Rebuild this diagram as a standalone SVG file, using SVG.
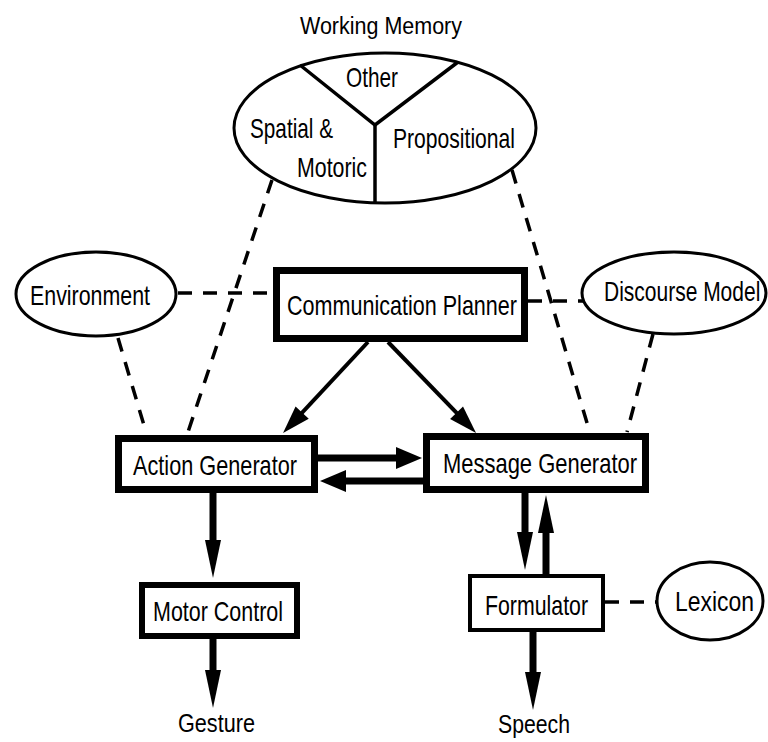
<svg xmlns="http://www.w3.org/2000/svg" width="768" height="742" viewBox="0 0 768 742">
<style>
text{font-family:"Liberation Sans",Arial,sans-serif;fill:#000}
.lbl{font-size:28px}
.box{fill:#fff;stroke:#000}
.ell{fill:#fff;stroke:#000;stroke-width:3}
.dash{stroke:#000;stroke-width:3.5;stroke-dasharray:14 11;fill:none}
.thick{stroke:#000;stroke-width:7;fill:none}
.thin{stroke:#000;stroke-width:4;fill:none}
.div{stroke:#000;stroke-width:3.5;fill:none}
</style>
<defs>
<marker id="mV" markerUnits="userSpaceOnUse" markerWidth="38" markerHeight="16" refX="19" refY="8" orient="auto" overflow="visible"><path d="M0,0 L38,8 L0,16 z" fill="#000"/></marker>
<marker id="mH" markerUnits="userSpaceOnUse" markerWidth="26" markerHeight="22" refX="13" refY="11" orient="auto" overflow="visible"><path d="M0,0 L26,11 L0,22 z" fill="#000"/></marker>
<marker id="mD" markerUnits="userSpaceOnUse" markerWidth="28" markerHeight="18" refX="14" refY="9" orient="auto" overflow="visible"><path d="M0,0 L28,9 L0,18 z" fill="#000"/></marker>
</defs>
<rect width="768" height="742" fill="#fff"/>
<g id="connectors">
<line class="dash" x1="178" y1="293" x2="273" y2="293"/>
<line class="dash" x1="528" y1="301" x2="583" y2="301"/>
<line class="dash" x1="118" y1="338" x2="146" y2="432"/>
<line class="dash" x1="272" y1="180" x2="188" y2="432"/>
<line class="dash" x1="512" y1="170" x2="590" y2="433"/>
<line class="dash" x1="653" y1="334" x2="627" y2="432"/>
<line class="dash" x1="605" y1="602" x2="657" y2="602"/>
<line class="thin" x1="368" y1="342" x2="292.6" y2="422.8" marker-end="url(#mD)"/>
<line class="thin" x1="388" y1="342" x2="466.3" y2="422.9" marker-end="url(#mD)"/>
<line class="thick" x1="318" y1="458" x2="409" y2="458" marker-end="url(#mH)"/>
<line class="thick" x1="423" y1="481" x2="333" y2="481" marker-end="url(#mH)"/>
<line class="thick" x1="213" y1="493" x2="213" y2="559" marker-end="url(#mV)"/>
<line class="thick" x1="213" y1="639" x2="213" y2="689" marker-end="url(#mV)"/>
<line class="thick" x1="525" y1="493" x2="525" y2="551" marker-end="url(#mV)"/>
<line class="thick" x1="546" y1="574" x2="546" y2="514" marker-end="url(#mV)"/>
<line class="thick" x1="533" y1="632" x2="533" y2="691" marker-end="url(#mV)"/>
</g>
<g id="working-memory">
<text x="300" y="34" font-size="23" textLength="162" lengthAdjust="spacingAndGlyphs">Working Memory</text>
<ellipse class="ell" cx="385" cy="128" rx="151" ry="75"/>
<polyline class="div" points="300,65 375,125 458,62"/>
<line class="div" x1="375" y1="125" x2="375" y2="203"/>
<text class="lbl" x="346" y="87" font-size="26" textLength="52" lengthAdjust="spacingAndGlyphs">Other</text>
<text class="lbl" x="250" y="138" textLength="83" lengthAdjust="spacingAndGlyphs">Spatial &amp;</text>
<text class="lbl" x="297" y="177" textLength="70" lengthAdjust="spacingAndGlyphs">Motoric</text>
<text class="lbl" x="393" y="148" textLength="122" lengthAdjust="spacingAndGlyphs">Propositional</text>
</g>
<g id="environment">
<ellipse class="ell" cx="96" cy="294" rx="80" ry="42"/>
<text class="lbl" x="30" y="305" textLength="120" lengthAdjust="spacingAndGlyphs">Environment</text>
</g>
<g id="communication-planner">
<rect class="box" x="276.5" y="270.5" width="248" height="68" stroke-width="7"/>
<text class="lbl" x="287" y="315" textLength="230" lengthAdjust="spacingAndGlyphs">Communication Planner</text>
</g>
<g id="discourse-model">
<ellipse class="ell" cx="674" cy="293" rx="92" ry="41"/>
<text class="lbl" font-size="26" transform="translate(604,301) scale(0.75,1)">Discourse Model</text>
</g>
<g id="action-generator">
<rect class="box" x="118.5" y="438.5" width="196" height="51" stroke-width="7"/>
<text class="lbl" x="133" y="475" textLength="164" lengthAdjust="spacingAndGlyphs">Action Generator</text>
</g>
<g id="message-generator">
<rect class="box" x="426.5" y="436.5" width="219" height="53" stroke-width="7"/>
<text class="lbl" x="443" y="473" textLength="194" lengthAdjust="spacingAndGlyphs">Message Generator</text>
</g>
<g id="motor-control">
<rect class="box" x="142" y="585" width="155" height="51" stroke-width="6"/>
<text class="lbl" x="153" y="621" textLength="130" lengthAdjust="spacingAndGlyphs">Motor Control</text>
</g>
<g id="formulator">
<rect class="box" x="470" y="576" width="133" height="54" stroke-width="4"/>
<text class="lbl" x="485" y="615" textLength="103" lengthAdjust="spacingAndGlyphs">Formulator</text>
</g>
<g id="lexicon">
<ellipse class="ell" cx="710" cy="601" rx="53" ry="39"/>
<text class="lbl" font-size="25" transform="translate(675,611) scale(0.82,1)">Lexicon</text>
</g>
<g id="gesture">
<text x="178" y="732" font-size="26" textLength="77" lengthAdjust="spacingAndGlyphs">Gesture</text>
</g>
<g id="speech">
<text x="498" y="733" font-size="26" textLength="72" lengthAdjust="spacingAndGlyphs">Speech</text>
</g>
</svg>
